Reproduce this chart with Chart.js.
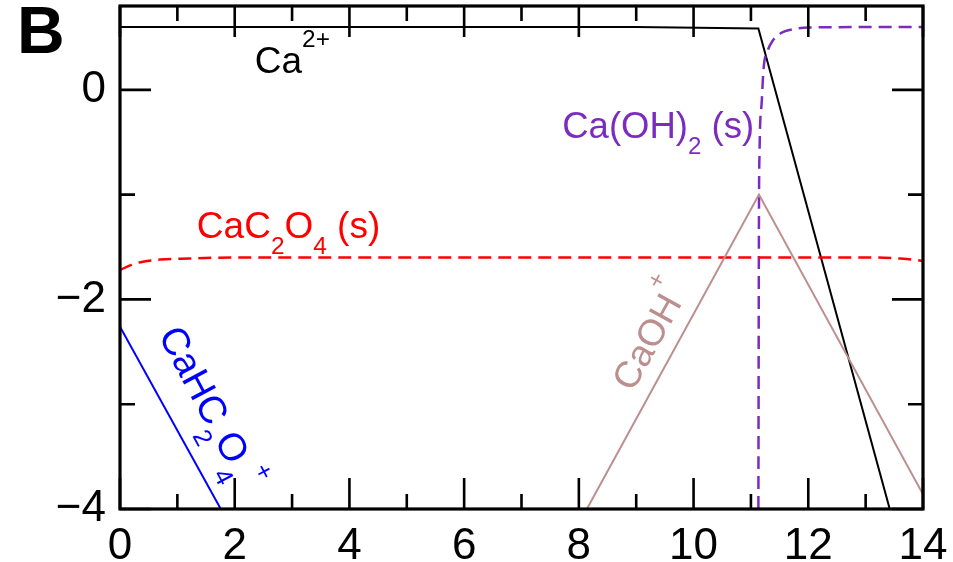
<!DOCTYPE html>
<html>
<head>
<meta charset="utf-8">
<script src="https://cdn.jsdelivr.net/npm/chart.js@4"></script>
<style>
  body { margin: 0; background: #fff; }
  #wrap { width: 953px; height: 562px; }
</style>
</head>
<body>
<div id="wrap"><canvas id="chart" width="953" height="562"></canvas></div>
<script>
// pH values (x) and log concentrations (y)
var caX = [0, 9, 11.13, 13.42];
var caY = [0.6, 0.6, 0.585, -4];

var caOH2X = [11.13, 11.14, 11.15, 11.19, 11.22, 11.29, 11.38, 11.52, 11.75, 12, 14];
var caOH2Y = [-4, -1.2, -0.6, -0.1, 0.2, 0.37, 0.47, 0.54, 0.58, 0.595, 0.6];

var caC2O4X = [0, 0.2, 0.4, 0.7, 1.2, 2, 13.2, 13.6, 13.9, 14];
var caC2O4Y = [-1.72, -1.67, -1.64, -1.62, -1.61, -1.6, -1.6, -1.61, -1.625, -1.635];

var caHC2O4X = [0, 1.757];
var caHC2O4Y = [-2.26, -4];

var caOHX = [8.14, 11.14, 14];
var caOHY = [-4, -1.0, -3.86];

var xMajor = [0, 2, 4, 6, 8, 10, 12, 14];
var xMinor = [1, 3, 5, 7, 9, 11, 13];
var yMajor = [-4, -2, 0];
var yMinor = [-3, -1];

var FONT = '"Liberation Sans", Arial, Helvetica, sans-serif';

function pts(xs, ys) {
  return xs.map(function (x, i) { return { x: x, y: ys[i] }; });
}

function drawRich(ctx, x, y, angle, parts, color, size) {
  ctx.save();
  ctx.translate(x, y);
  ctx.rotate(angle);
  ctx.fillStyle = color;
  ctx.textBaseline = 'alphabetic';
  ctx.textAlign = 'left';
  var cx = 0;
  parts.forEach(function (p) {
    var fs = p.s ? size * 0.66 : size;
    ctx.font = fs + 'px ' + FONT;
    var dy = 0;
    if (p.s === 'sub') dy = size * 0.44;
    if (p.s === 'sup') dy = -size * (p.up || 0.7);
    ctx.fillText(p.t, cx, dy);
    cx += ctx.measureText(p.t).width;
  });
  ctx.restore();
}

var framePlugin = {
  id: 'frame',
  afterDatasetsDraw: function (chart) {
    var ctx = chart.ctx, a = chart.chartArea;
    var xs = chart.scales.x, ys = chart.scales.y;
    ctx.save();
    ctx.strokeStyle = '#000';
    ctx.lineWidth = 3.2;
    ctx.strokeRect(a.left, a.top, a.right - a.left, a.bottom - a.top);
    ctx.lineWidth = 2.6;
    ctx.beginPath();
    function xt(v, len) {
      var px = xs.getPixelForValue(v);
      ctx.moveTo(px, a.bottom); ctx.lineTo(px, a.bottom - len);
      ctx.moveTo(px, a.top); ctx.lineTo(px, a.top + len);
    }
    function yt(v, len) {
      var py = ys.getPixelForValue(v);
      ctx.moveTo(a.left, py); ctx.lineTo(a.left + len, py);
      ctx.moveTo(a.right, py); ctx.lineTo(a.right - len, py);
    }
    xMajor.forEach(function (v) { xt(v, 31); });
    xMinor.forEach(function (v) { xt(v, 15); });
    yMajor.forEach(function (v) { yt(v, 31); });
    yMinor.forEach(function (v) { yt(v, 15); });
    ctx.stroke();
    ctx.restore();

    function P(x, y) { return [xs.getPixelForValue(x), ys.getPixelForValue(y)]; }
    var p;
    p = P(2.35, 0.165);
    drawRich(ctx, p[0], p[1], 0, [{ t: 'Ca' }, { t: '2+', s: 'sup' }], '#000', 37);
    p = P(7.71, -0.455);
    drawRich(ctx, p[0], p[1], 0, [{ t: 'Ca(OH)' }, { t: '2', s: 'sub' }, { t: ' (s)' }], '#7b2cbf', 36.5);
    p = P(1.34, -1.41);
    drawRich(ctx, p[0], p[1], 0, [{ t: 'CaC' }, { t: '2', s: 'sub' }, { t: 'O' }, { t: '4', s: 'sub' }, { t: ' (s)' }], '#ff0000', 37);
    p = P(0.66, -2.34);
    drawRich(ctx, p[0], p[1], 62 * Math.PI / 180,
      [{ t: 'CaHC' }, { t: '2', s: 'sub' }, { t: 'O' }, { t: '4', s: 'sub' }, { t: '+', s: 'sup', up: 0.55 }], '#0000ff', 38.5);
    p = P(8.94, -2.89);
    drawRich(ctx, p[0], p[1], -61 * Math.PI / 180, [{ t: 'CaOH' }, { t: '+', s: 'sup' }], '#bc8f8f', 37);

    ctx.save();
    ctx.fillStyle = '#000';
    ctx.font = 'bold 66px ' + FONT;
    ctx.textBaseline = 'alphabetic';
    ctx.fillText('B', 17, 53);
    ctx.restore();
  }
};

function fmt(v) {
  if (v % 2 !== 0) return '';
  return v < 0 ? '\u2212' + Math.abs(v) : String(v);
}

new Chart(document.getElementById('chart'), {
  type: 'line',
  data: {
    datasets: [
      { data: pts(caOHX, caOHY), borderColor: '#bc8f8f', borderWidth: 2 },
      { data: pts(caHC2O4X, caHC2O4Y), borderColor: '#0000ff', borderWidth: 2 },
      { data: pts(caC2O4X, caC2O4Y), borderColor: '#ff0000', borderWidth: 2.5, borderDash: [13, 7], cubicInterpolationMode: 'monotone' },
      { data: pts(caOH2X, caOH2Y), borderColor: '#7b2cbf', borderWidth: 2.5, borderDash: [13, 7], cubicInterpolationMode: 'monotone' },
      { data: pts(caX, caY), borderColor: '#000', borderWidth: 2 }
    ]
  },
  options: {
    responsive: false,
    animation: false,
    layout: { padding: { top: 6, right: 30, left: 0, bottom: 0 } },
    elements: { point: { radius: 0 }, line: { tension: 0 } },
    plugins: { legend: { display: false }, tooltip: { enabled: false } },
    scales: {
      x: {
        type: 'linear', min: 0, max: 14,
        grid: { display: false, drawTicks: false },
        border: { display: false },
        ticks: { stepSize: 2, padding: 11, color: '#000', font: { size: 44, family: FONT }, maxRotation: 0, callback: fmt },
        afterFit: function (s) { s.height = 53; s.paddingLeft = 0; s.paddingRight = 0; }
      },
      y: {
        type: 'linear', min: -4, max: 0.8,
        grid: { display: false, drawTicks: false },
        border: { display: false },
        ticks: { stepSize: 1, includeBounds: false, padding: 14, color: '#000', font: { size: 44, family: FONT }, callback: fmt },
        afterFit: function (s) { s.width = 120; s.paddingTop = 0; s.paddingBottom = 0; }
      }
    }
  },
  plugins: [framePlugin]
});
</script>
</body>
</html>
